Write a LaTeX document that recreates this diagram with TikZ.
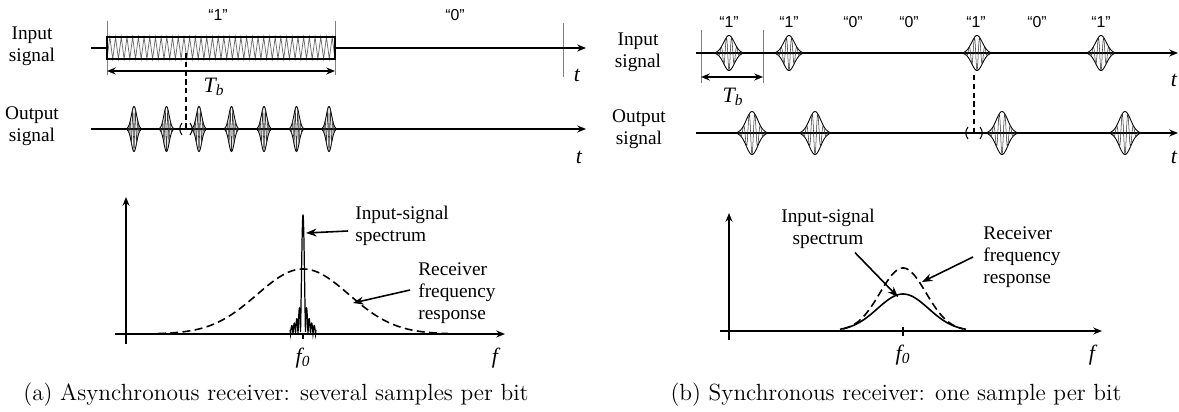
\documentclass[tikz,border=0pt]{standalone}
\usepackage{fontspec}
\usepackage{tikz}
\usetikzlibrary{arrows.meta,calc}
\newfontfamily\timesfont{Liberation Serif}
\newfontfamily\arialfont{Liberation Sans}
\newcommand\Px{0.02cm}
\newcommand\Period{5.7}
\tikzset{
  axis/.style={
    line width=0.9pt,
    -{Stealth[length=5pt,width=4pt]}
  },
  pointer/.style={
    line width=0.9pt,
    -{Stealth[length=6pt,width=4.5pt]}
  },
  span/.style={
    line width=1pt,
    {Stealth[length=5pt,width=4pt]}-{Stealth[length=5pt,width=4pt]}
  },
  bound/.style={
    gray,
    line width=0.5pt
  },
  sampler/.style={
    line width=1.1pt,
    dash pattern=on 3pt off 2pt
  },
  window/.style={
    line width=0.6pt
  },
  zig/.style={
    black!60,
    line width=0.4pt
  },
  carrier/.style={
    black!80,
    line width=0.3pt
  },
  response/.style={
    line width=0.9pt,
    dash pattern=on 4.5pt off 2.5pt
  },
  sig/.style={
    font=\timesfont\fontsize{11}{12.5}\selectfont,
    align=center,
    inner sep=0pt
  },
  note/.style={
    font=\timesfont\fontsize{11}{12.5}\selectfont,
    inner sep=0pt
  },
  bit/.style={
    font=\arialfont\fontsize{9}{10}\selectfont,
    inner sep=0pt
  },
  var/.style={
    font=\timesfont\itshape\fontsize{12.5}{14}\selectfont,
    inner sep=0pt
  },
  legend/.style={
    font=\fontsize{13.3}{16}\selectfont,
    anchor=base,
    inner sep=0pt
  },
  pics/wavelet/.style n args={2}{
    code={
      \draw[line width=0.5pt] plot[domain=-#1:#1,samples=31,smooth] (\x,{#2*exp(-3*(\x/#1)^2)})
        -- plot[domain=#1:-#1,samples=31,smooth] (\x,{-#2*exp(-3*(\x/#1)^2)}) -- cycle;
      \draw[carrier] plot[domain=-#1:#1,samples=90] (\x,{#2*exp(-3*(\x/#1)^2)*cos(900*\x/#1)});
    }
  }
}

\begin{document}
\begin{tikzpicture}[x=\Px,y=-\Px]
    \useasboundingbox (0,0) rectangle (1179,412);

    % (a) asynchronous
    \node[sig] (inA) at (32,46) {Input\\signal};
    \node[sig] (outA) at (32,126) {Output\\signal};
    \node[bit] (oneA) at (218,15) {“1”};
    \node[bit] (zeroA) at (455,15) {“0”};

    \draw[bound] (107,21) -- (107,75);
    \draw[bound] (335,21) -- (335,75);
    \draw[bound] (563,23) -- (563,77);

    \draw[zig] (107,59) \foreach \i in {0,...,39} { -- ({107+(\i+0.5)*\Period},37) -- ({107+(\i+1)*\Period},59) };
    \draw[line width=0.8pt] (107,37) rectangle (335,59);
    \draw[line width=0.9pt] (91,48) -- (107,48);
    \draw[axis] (335,48) -- (586,48);
    \draw[span] (107,71) -- (335,71);
    \node[var] (tbA) at (214,87) {T\textsubscript{b}};
    \node[var] (tinA) at (577,75) {t};

    \draw[axis] (91,129) -- (586,129);
    \foreach \k in {0,...,6}
      \pic at ({134+32.5*\k},129) {wavelet={6.5}{22.5}};
    \node[var] (toutA) at (579,157) {t};

    \draw[sampler] (186,53) -- (186,129);
    \draw[window] (182,123) .. controls (179,127) and (179,131) .. (182,135);
    \draw[window] (190,123) .. controls (193,127) and (193,131) .. (190,135);

    \draw[axis] (126,344) -- (126,197);
    \draw[axis] (115,334) -- (505,334);
    \draw[line width=0.6pt] (303,334) -- (303,339);
    \draw[response] plot[domain=-145:145,samples=90,smooth] ({303+\x},{334-65*exp(-(\x/46)^2/2)});
    \draw[line width=0.7pt] plot[domain=-13:13,samples=260] ({303+\x},{334-119*abs(sin(1.2566*\x r)/(1.2566*\x))});
    \node[var] (f0A) at (303,358) {f\textsubscript{0}};
    \node[var] (fA) at (495,358) {f};

    \node[note, align=left, anchor=west] (specA) at (355,226) {Input-signal\\spectrum};
    \node[note, align=left, anchor=west] (respA) at (418,293) {Receiver\\frequency\\response};
    \coordinate (peakA) at (306,233);
    \coordinate (curveA) at (353,303);
    \draw[pointer] ([xshift=-0.14cm,yshift=-0.1cm]specA.west) -- (peakA);
    \draw[pointer] ([xshift=-0.16cm,yshift=0.06cm]respA.west) -- (curveA);

    \node[legend] (capA) at (276,400) {(a) Asynchronous receiver: several samples per bit};

    % (b) synchronous
    \node[sig] (inB) at (638,52.5) {Input\\signal};
    \node[sig] (outB) at (639,129) {Output\\signal};
    \foreach \bx/\bv [count=\n] in {729/1,789/1,853/0,909/0,976/1,1037/0,1101/1}
      \node[bit] (bitB\n) at (\bx,22) {“\bv”};

    \draw[bound] (701,30) -- (701,83);
    \draw[bound] (763,30) -- (763,83);
    \draw[axis] (696,53) -- (1178,53);
    \foreach \px in {729,789,977,1101}
      \pic at (\px,53) {wavelet={13}{17.5}};
    \draw[span] (701,77) -- (763,77);
    \node[var] (tbB) at (733,97) {T\textsubscript{b}};
    \node[var] (tinB) at (1174,80) {t};

    \draw[axis] (696,133) -- (1178,133);
    \foreach \px in {752,815,1002,1125}
      \pic at (\px,133) {wavelet={14}{21.5}};
    \node[var] (toutB) at (1174,157) {t};

    \draw[sampler] (974,75) -- (974,133);
    \draw[window] (968,127) .. controls (965,131) and (965,135) .. (968,139);
    \draw[window] (980,127) .. controls (983,131) and (983,135) .. (980,139);

    \draw[axis] (729,340) -- (729,213);
    \draw[axis] (720,331) -- (1102,331);
    \draw[line width=0.6pt] (903,327) -- (903,336);
    \draw[response] plot[domain=-60:60,samples=70,smooth] ({903+\x},{331-63*exp(-(\x/23)^2/2)});
    \draw[line width=0.9pt] plot[domain=-63:63,samples=70,smooth] ({903+\x},{331-37*exp(-(\x/25.5)^2/2)});
    \node[var] (f0B) at (903,355) {f\textsubscript{0}};
    \node[var] (fB) at (1092,355) {f};

    \node[note, align=center] (specB) at (828,228.5) {Input-signal\\spectrum};
    \node[note, align=left, anchor=west] (respB) at (983,257) {Receiver\\frequency\\response};
    \coordinate (peakB) at (898,297);
    \coordinate (curveB) at (922,282);
    \draw[pointer] ([xshift=0.54cm,yshift=-0.08cm]specB.south) -- (peakB);
    \draw[pointer] ([xshift=-0.2cm]respB.west) -- (curveB);

    \node[legend] (capB) at (896,400) {(b) Synchronous receiver: one sample per bit};
\end{tikzpicture}
\end{document}
